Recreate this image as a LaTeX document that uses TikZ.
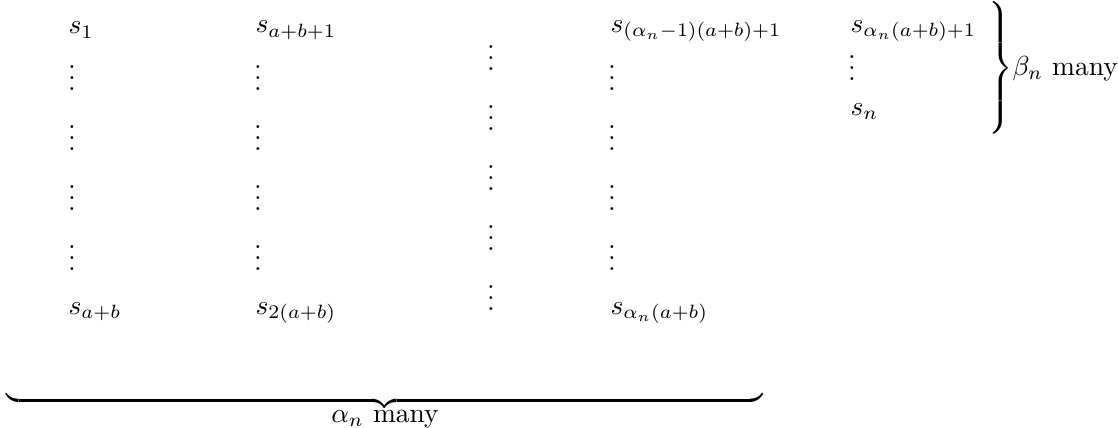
\documentclass[tikz,border=0pt]{standalone}
\begin{document}
\begin{tikzpicture}[x=0.3636pt,y=-0.3636pt,
  lab/.style={anchor=base west,inner sep=0pt},
  vd/.style={anchor=south,inner sep=0pt}]
\useasboundingbox (0,0) rectangle (1118,428);
% top row
\node[lab] (s1) at (68,34) {$s_1$};
\node[lab] (s2) at (255,33) {$s_{a+b+1}$};
\node[lab] (s3) at (610,32) {$s_{(\alpha_n-1)(a+b)+1}$};
\node[lab] (s4) at (850,32) {$s_{\alpha_n(a+b)+1}$};
% bottom row
\node[lab] (b1) at (68,314) {$s_{a+b}$};
\node[lab] (b2) at (255,314) {$s_{2(a+b)}$};
\node[lab] (b3) at (610,314) {$s_{\alpha_n(a+b)}$};
\node[lab] (sn) at (850,115) {$s_n$};
% column dots
\foreach \x/\n in {72/a,258/b,612/c}
  \foreach \y [count=\i] in {91.5,151.5,211.5,271.5}
    \node[vd] (v\n\i) at (\x,\y) {$\vdots$};
\foreach \y [count=\i] in {71.5,131.5,191.5,251.5,311.5}
  \node[vd] (vm\i) at (491,\y) {$\vdots$};
\node[vd] (v5) at (852,81.5) {$\vdots$};
% right brace
\node[anchor=west,inner sep=0pt] (rb) at (985,68)
  {$\delimitershortfall=0pt\delimiterfactor=1000
    \left.\vcenter{\hrule height 46pt width 0pt}\right\}$};
\node[anchor=base west,inner sep=0pt] (beta) at (1012,75) {$\beta_n$ many};
% bottom brace
\node[anchor=south,inner sep=0pt] (ub) at (385,411) {$\underbrace{\hbox to 275pt{}}$};
\node[anchor=base,inner sep=0pt] (alpha) at (385,422) {$\alpha_n$ many};
\end{tikzpicture}
\end{document}
